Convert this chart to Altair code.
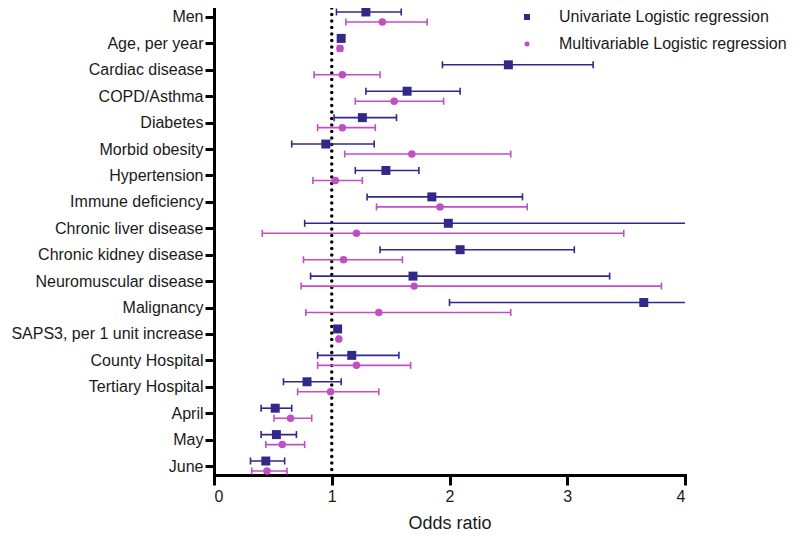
import altair as alt
import pandas as pd

categories = ["Men", "Age, per year", "Cardiac disease", "COPD/Asthma", "Diabetes",
              "Morbid obesity", "Hypertension", "Immune deficiency", "Chronic liver disease",
              "Chronic kidney disease", "Neuromuscular disease", "Malignancy",
              "SAPS3, per 1 unit increase", "County Hospital", "Tertiary Hospital",
              "April", "May", "June"]
series = ["Univariate Logistic regression", "Multivariable Logistic regression"]

uni_or = [1.29, 1.08, 2.50, 1.64, 1.26, 0.95, 1.46, 1.85, 1.99, 2.09, 1.69, 3.65, 1.05, 1.17, 0.79, 0.52, 0.53, 0.44]
uni_lo = [1.04, 1.06, 1.94, 1.29, 1.02, 0.66, 1.20, 1.30, 0.77, 1.41, 0.82, 2.00, 1.04, 0.88, 0.59, 0.40, 0.40, 0.31]
uni_hi = [1.59, 1.10, 3.22, 2.09, 1.55, 1.36, 1.74, 2.62, 5.20, 3.06, 3.36, 6.70, 1.06, 1.57, 1.08, 0.66, 0.70, 0.60]
multi_or = [1.43, 1.07, 1.09, 1.53, 1.09, 1.68, 1.03, 1.92, 1.21, 1.10, 1.70, 1.40, 1.06, 1.21, 0.99, 0.65, 0.58, 0.45]
multi_lo = [1.12, 1.05, 0.85, 1.20, 0.88, 1.11, 0.84, 1.38, 0.41, 0.76, 0.74, 0.78, 1.05, 0.88, 0.71, 0.51, 0.44, 0.32]
multi_hi = [1.81, 1.09, 1.41, 1.95, 1.37, 2.52, 1.26, 2.66, 3.48, 1.60, 3.80, 2.52, 1.07, 1.67, 1.40, 0.83, 0.77, 0.62]

x_ticks = [0, 1, 2, 3, 4]

rows = []
for i, c in enumerate(categories):
    rows.append({"category": c, "series": series[0], "or": uni_or[i], "lo": uni_lo[i], "hi": uni_hi[i]})
    rows.append({"category": c, "series": series[1], "or": multi_or[i], "lo": multi_lo[i], "hi": multi_hi[i]})
df = pd.DataFrame(rows)

FONT = "Arial, Liberation Sans, sans-serif"
colors = ["#31288a", "#c24fc1"]
# square drawn a little larger than the circle, as in the reference
shapes = ["M-1.2,-1.2H1.2V1.2H-1.2Z", "circle"]

xscale = alt.Scale(domain=[0, 4], nice=False, zero=True)
y_enc = alt.Y("category:N", sort=categories,
              scale=alt.Scale(type="point", padding=0.34),
              axis=alt.Axis(title=None, domainWidth=3, domainColor="black", tickWidth=3,
                            tickColor="black", tickSize=9, labelFontSize=16, labelPadding=2,
                            labelLimit=400, labelColor="#1a1a1a", labelFont=FONT, grid=False,
                            domainCap="square"))
yoff = alt.YOffset("series:N", sort=series, scale=alt.Scale(type="point", range=[-5, 5], padding=0))
x_axis = alt.Axis(title="Odds ratio", values=x_ticks, format="d", domainWidth=3, domainColor="black",
                  tickWidth=3, tickColor="black", tickSize=10, labelFontSize=16, labelPadding=3,
                  labelColor="#1a1a1a", labelFont=FONT, titleFont=FONT, titleFontSize=18,
                  titleFontWeight="normal", titleColor="#1a1a1a", titlePadding=10, grid=False,
                  domainCap="square")

base = alt.Chart(df)

ref_line = alt.Chart(pd.DataFrame({"v": [1]})).mark_rule(
    color="black", strokeWidth=3.5, strokeDash=[0.1, 6.4], strokeCap="round"
).encode(x=alt.X("v:Q", scale=xscale, axis=x_axis))

layers = [ref_line]
for s, col in zip(series, colors):
    sub = base.transform_filter(alt.datum.series == s)
    layers.append(sub.mark_rule(strokeWidth=1.6, clip=True, color=col).encode(
        x=alt.X("lo:Q", scale=xscale, axis=x_axis), x2="hi:Q", y=y_enc, yOffset=yoff))
    layers.append(sub.mark_tick(size=7, thickness=1.6, clip=True, opacity=1, color=col).encode(
        x=alt.X("lo:Q", scale=xscale), y=y_enc, yOffset=yoff))
    layers.append(sub.mark_tick(size=7, thickness=1.6, clip=True, opacity=1, color=col).encode(
        x=alt.X("hi:Q", scale=xscale), y=y_enc, yOffset=yoff))

leg = alt.Legend(title=None, orient="none", legendX=305, legendY=1,
                 labelFontSize=16, labelFont=FONT, labelColor="#1a1a1a", labelLimit=400,
                 symbolSize=25, labelOffset=24, rowPadding=11, symbolStrokeWidth=0)
points = base.mark_point(filled=True, opacity=1, size=56, clip=True).encode(
    x=alt.X("or:Q", scale=xscale),
    y=y_enc, yOffset=yoff,
    color=alt.Color("series:N", sort=series, scale=alt.Scale(domain=series, range=colors), legend=leg),
    shape=alt.Shape("series:N", sort=series, scale=alt.Scale(domain=series, range=shapes), legend=leg),
)
layers.append(points)

chart = alt.layer(*layers).properties(
    width=471, height=467,
    autosize=alt.AutoSizeParams(type="none"),
    padding={"left": 206, "top": 0, "right": 106, "bottom": 60},
).configure(font=FONT).configure_view(strokeWidth=0)

chart.save("out.html", embed_options={"renderer": "svg", "actions": False})
